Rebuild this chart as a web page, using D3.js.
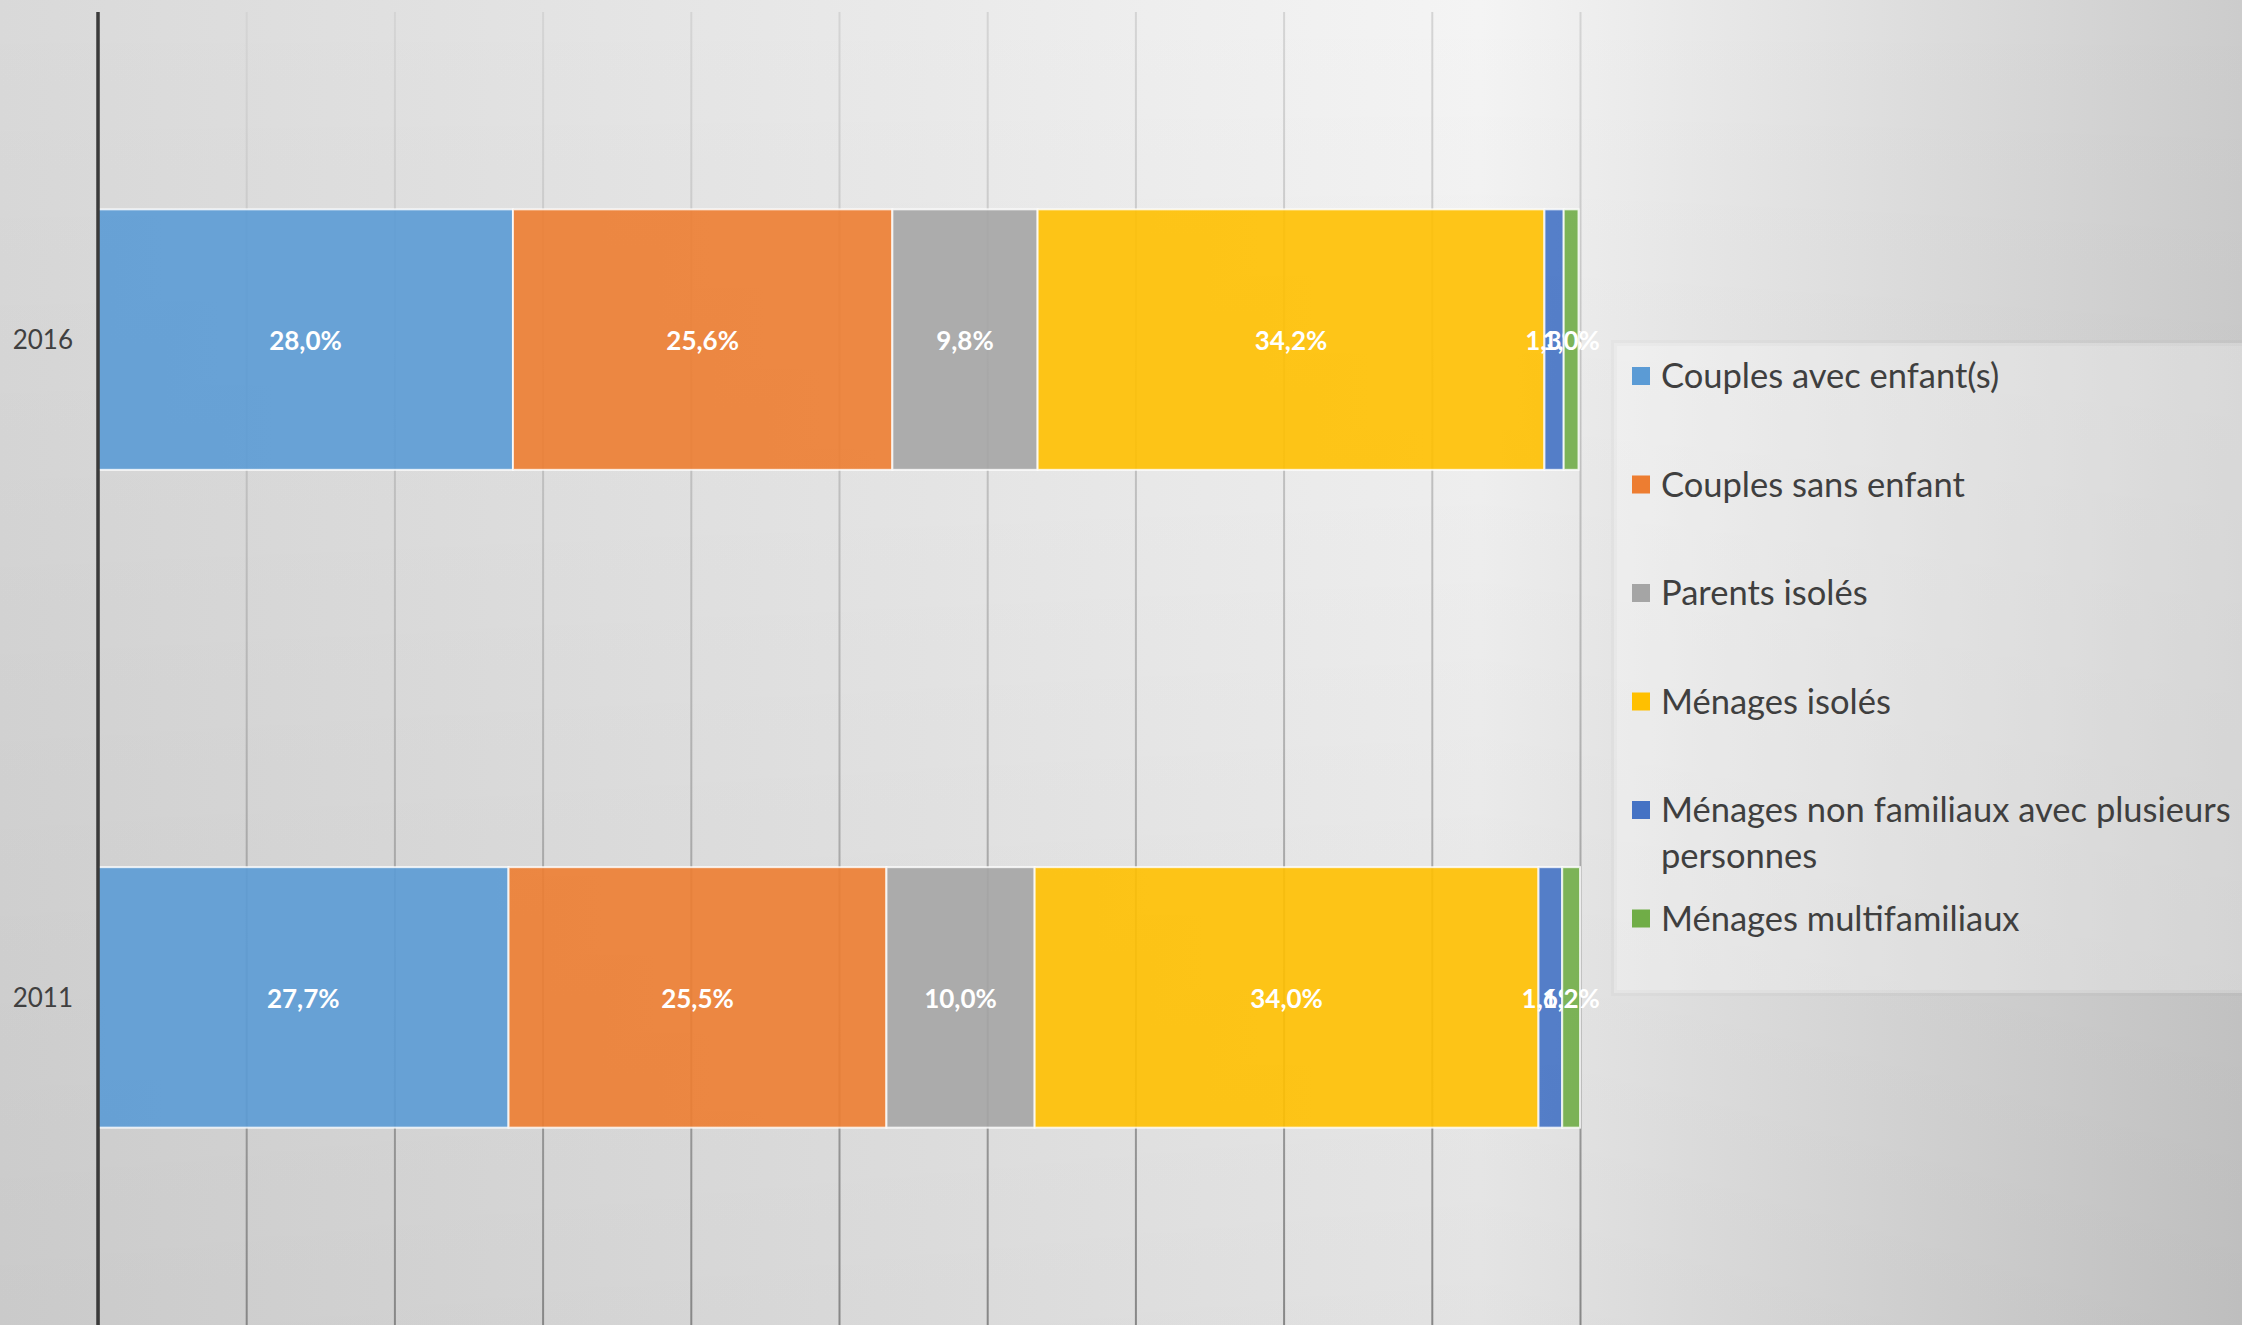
<!DOCTYPE html>
<html>
<head>
<meta charset="utf-8">
<script src="https://cdn.jsdelivr.net/npm/d3@7"></script>
<style>
  body { margin: 0; overflow: hidden; }
  text { font-family: Lato, "Open Sans", sans-serif; }
</style>
</head>
<body>
<script>
// data
var years = ['2016', '2011'];
var series = ['Couples avec enfant(s)', 'Couples sans enfant', 'Parents isolés',
              'Ménages isolés', 'Ménages non familiaux avec plusieurs personnes', 'Ménages multifamiliaux'];
var values2016 = [28.0, 25.6, 9.8, 34.2, 1.3, 1.0];
var values2011 = [27.7, 25.5, 10.0, 34.0, 1.6, 1.2];
var colors = ['#5b9bd5', '#ed7d31', '#a5a5a5', '#ffc000', '#4472c4', '#70ad47'];
var xTicks = [0, 10, 20, 30, 40, 50, 60, 70, 80, 90, 100];

var W = 2242, H = 1325;

var svg = d3.select('body').append('svg')
    .attr('width', W)
    .attr('height', H);

var defs = svg.append('defs');

// background: light spot near the top right, greyer edges
var bgH = defs.append('linearGradient').attr('id', 'bgH')
    .attr('gradientUnits', 'userSpaceOnUse')
    .attr('x1', 0).attr('y1', 0).attr('x2', W).attr('y2', 0);
bgH.append('stop').attr('offset', 0).attr('stop-color', '#d9d9d9');
bgH.append('stop').attr('offset', 0.66).attr('stop-color', '#f4f4f4');
bgH.append('stop').attr('offset', 1).attr('stop-color', '#cccccc');

var bgV = defs.append('linearGradient').attr('id', 'bgV')
    .attr('x1', 0).attr('y1', 0).attr('x2', 0).attr('y2', 1);
bgV.append('stop').attr('offset', 0).attr('stop-color', '#000').attr('stop-opacity', 0);
bgV.append('stop').attr('offset', 1).attr('stop-color', '#000').attr('stop-opacity', 0.07);

svg.append('rect').attr('width', W).attr('height', H).attr('fill', 'url(#bgH)');
svg.append('rect').attr('width', W).attr('height', H).attr('fill', 'url(#bgV)');

var gridGrad = defs.append('linearGradient').attr('id', 'gridGrad')
    .attr('gradientUnits', 'userSpaceOnUse')
    .attr('x1', 0).attr('y1', 12).attr('x2', 0).attr('y2', H);
gridGrad.append('stop').attr('offset', 0).attr('stop-color', '#d4d4d4');
gridGrad.append('stop').attr('offset', 0.5).attr('stop-color', '#b6b6b6');
gridGrad.append('stop').attr('offset', 1).attr('stop-color', '#868686');

var x = d3.scaleLinear().domain([0, 100]).range([98, 1580]);
var y = d3.scaleBand().domain(years).range([12, H]).paddingInner(0.604).paddingOuter(0.3);

// gridlines
var xAxis = svg.append('g')
    .call(d3.axisTop(x).tickValues(xTicks).tickSize(-(H - 12)).tickFormat(''))
    .attr('transform', 'translate(0,12)');
xAxis.select('.domain').remove();
xAxis.selectAll('.tick line')
    .attr('stroke', 'url(#gridGrad)')
    .attr('stroke-width', 2);

// stacked bars
var table = years.map(function (yr, i) {
    var vals = i === 0 ? values2016 : values2011;
    var row = { year: yr };
    series.forEach(function (s, j) { row[s] = vals[j]; });
    return row;
});
var stacked = d3.stack().keys(series)(table);

var layers = svg.selectAll('.layer')
    .data(stacked)
    .enter().append('g')
    .attr('class', 'layer')
    .attr('fill', function (d, i) { return colors[i]; });

layers.selectAll('rect')
    .data(function (d) { return d; })
    .enter().append('rect')
    .attr('x', function (d) { return x(d[0]); })
    .attr('y', function (d) { return y(d.data.year); })
    .attr('width', function (d) { return x(d[1]) - x(d[0]); })
    .attr('height', y.bandwidth())
    .attr('fill-opacity', 0.9)
    .attr('stroke', '#ffffff')
    .attr('stroke-opacity', 0.8)
    .attr('stroke-width', 2);

layers.selectAll('text')
    .data(function (d) { return d; })
    .enter().append('text')
    .attr('x', function (d) { return (x(d[0]) + x(d[1])) / 2; })
    .attr('y', function (d) { return y(d.data.year) + y.bandwidth() / 2 + 4; })
    .attr('text-anchor', 'middle')
    .attr('dominant-baseline', 'middle')
    .attr('fill', '#ffffff')
    .attr('font-weight', 700)
    .attr('font-size', 26)
    .text(function (d) { return (d[1] - d[0]).toFixed(1).replace('.', ',') + '%'; });

// category axis
var yAxis = svg.append('g')
    .attr('transform', 'translate(98,0)')
    .call(d3.axisLeft(y).tickSize(0).tickPadding(25));
yAxis.select('.domain').remove();
yAxis.selectAll('text')
    .attr('font-size', 26)
    .attr('fill', '#404040')
    .attr('dy', '0.38em');

svg.append('line')
    .attr('x1', x(0)).attr('x2', x(0))
    .attr('y1', 12).attr('y2', H)
    .attr('stroke', '#3a3a3a')
    .attr('stroke-width', 3.5);

// legend
var legend = svg.append('g');
legend.append('rect')
    .attr('x', 1614).attr('y', 343)
    .attr('width', W - 1614 + 10).attr('height', 650)
    .attr('fill', '#ffffff').attr('fill-opacity', 0.3)
    .attr('stroke', '#000').attr('stroke-opacity', 0.02).attr('stroke-width', 6);

var items = legend.selectAll('.item')
    .data(series)
    .enter().append('g')
    .attr('class', 'item')
    .attr('transform', function (d, i) { return 'translate(1632,' + (376 + i * 108.5) + ')'; });

items.append('rect')
    .attr('x', 0).attr('y', -9)
    .attr('width', 18).attr('height', 18)
    .attr('fill', function (d, i) { return colors[i]; });

items.append('text')
    .attr('x', 29)
    .attr('font-size', 34.5)
    .attr('fill', '#3f3f3f')
    .each(function (d) {
        var t = d3.select(this);
        var words = d.split(' ');
        var line = [];
        var tspan = t.append('tspan').attr('x', 29).attr('dy', '0.35em');
        words.forEach(function (w) {
            line.push(w);
            tspan.text(line.join(' '));
            if (tspan.node().getComputedTextLength() > 600 && line.length > 1) {
                line.pop();
                tspan.text(line.join(' '));
                line = [w];
                tspan = t.append('tspan').attr('x', 29).attr('dy', 46).text(w);
            }
        });
    });
</script>
</body>
</html>
